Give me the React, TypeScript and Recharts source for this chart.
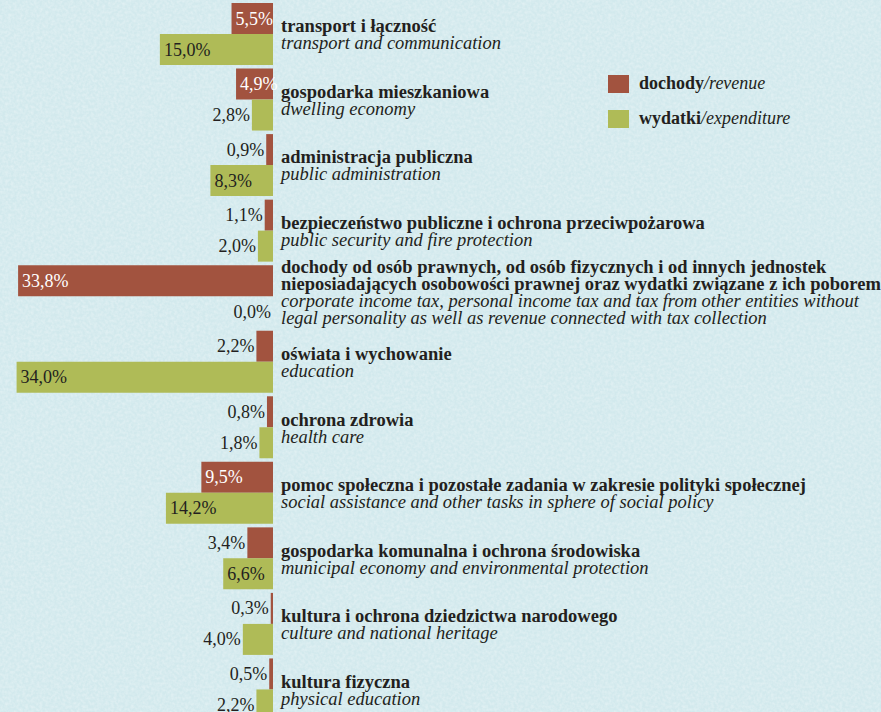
import React from 'react';
import { BarChart, Bar, XAxis, YAxis, Legend, LabelList } from 'recharts';

const categoriesPl: string[][] = [
  ['transport i łączność'],
  ['gospodarka mieszkaniowa'],
  ['administracja publiczna'],
  ['bezpieczeństwo publiczne i ochrona przeciwpożarowa'],
  ['dochody od osób prawnych, od osób fizycznych i od innych jednostek', 'nieposiadających osobowości prawnej oraz wydatki związane z ich poborem'],
  ['oświata i wychowanie'],
  ['ochrona zdrowia'],
  ['pomoc społeczna i pozostałe zadania w zakresie polityki społecznej'],
  ['gospodarka komunalna i ochrona środowiska'],
  ['kultura i ochrona dziedzictwa narodowego'],
  ['kultura fizyczna'],
];

const categoriesEn: string[][] = [
  ['transport and communication'],
  ['dwelling economy'],
  ['public administration'],
  ['public security and fire protection'],
  ['corporate income tax, personal income tax and tax from other entities without', 'legal personality as well as revenue connected with tax collection'],
  ['education'],
  ['health care'],
  ['social assistance and other tasks in sphere of social policy'],
  ['municipal economy and environmental protection'],
  ['culture and national heritage'],
  ['physical education'],
];

const revenue: number[] = [5.5, 4.9, 0.9, 1.1, 33.8, 2.2, 0.8, 9.5, 3.4, 0.3, 0.5];
const expenditure: number[] = [15.0, 2.8, 8.3, 2.0, 0.0, 34.0, 1.8, 14.2, 6.6, 4.0, 2.2];

const seriesPl = ['dochody', 'wydatki'];
const seriesEn = ['revenue', 'expenditure'];

const RED = '#a2533f';
const GREEN = '#afbb57';
const TEXT = '#231f20';
const FONT = '"Liberation Serif", "Times New Roman", serif';

const data = categoriesPl.map((_, i) => ({
  key: String(i),
  rev: revenue[i],
  exp: expenditure[i],
}));

const fmt = (v: number) => v.toFixed(1).replace('.', ',') + '%';

const makeLabel = (insideColor: string) => (props: any) => {
  const { x, y, width, height, value } = props;
  const left = Math.min(Number(x), Number(x) + Number(width));
  const cy = Number(y) + Number(height) / 2;
  const inside = Number(value) >= 4.5;
  return (
    <text
      x={inside ? left + 4 : left - 2}
      y={cy}
      dy={6}
      textAnchor={inside ? 'start' : 'end'}
      fill={inside ? insideColor : TEXT}
      fontFamily={FONT}
      fontSize={18}
    >
      {fmt(Number(value))}
    </text>
  );
};

const LINE = 17;

const CategoryTick = (props: any) => {
  const { x, y, payload } = props;
  const idx = Number(payload.value);
  const pl = categoriesPl[idx];
  const en = categoriesEn[idx];
  const n = pl.length + en.length;
  const first = Number(y) - 1.5 - (n - 2) * 10.5;
  const lines: { t: string; bold: boolean }[] = [
    ...pl.map((t) => ({ t, bold: true })),
    ...en.map((t) => ({ t, bold: false })),
  ];
  return (
    <g>
      {lines.map((l, i) => (
        <text
          key={i}
          x={x}
          y={first + i * LINE}
          textAnchor="start"
          fill={TEXT}
          fontFamily={FONT}
          fontSize={18.5}
          fontWeight={l.bold ? 'bold' : 'normal'}
          fontStyle={l.bold ? 'normal' : 'italic'}
        >
          {l.t}
        </text>
      ))}
    </g>
  );
};

const LegendContent = (props: any) => {
  const payload = props.payload || [];
  return (
    <svg width={240} height={60} style={{ overflow: 'visible' }}>
      {payload.map((p: any, i: number) => (
        <g key={i}>
          <rect x={0} y={i * 35} width={21} height={18} fill={p.color} />
          <text x={31} y={i * 35 + 14} fontFamily={FONT} fontSize={18} fill={TEXT}>
            <tspan fontWeight="bold">{seriesPl[i]}</tspan>
            <tspan fontStyle="italic">/{seriesEn[i]}</tspan>
          </text>
        </g>
      ))}
    </svg>
  );
};

const noise =
  "url(\"data:image/svg+xml;utf8," +
  encodeURIComponent(
    "<svg xmlns='http://www.w3.org/2000/svg' width='200' height='200'><filter id='n'><feTurbulence type='fractalNoise' baseFrequency='0.35' numOctaves='2' seed='3'/><feColorMatrix type='matrix' values='0 0 0 0 1  0 0 0 0 1  0 0 0 0 1  0 0 0 -1.6 1.1'/></filter><rect width='200' height='200' filter='url(%23n)' opacity='0.35'/></svg>"
  ).replace(/%2523/g, '%23') +
  "\")";

export default function App() {
  return (
    <div
      style={{
        position: 'absolute',
        left: 0,
        top: 0,
        width: 881,
        height: 712,
        overflow: 'hidden',
        backgroundColor: '#d2e9ed',
        backgroundImage: noise,
      }}
    >
      <BarChart
        width={881}
        height={722}
        data={data}
        layout="vertical"
        margin={{ top: 1, right: 0, bottom: 0, left: 0 }}
        barCategoryGap={2}
        barGap={0}
      >
        <XAxis type="number" domain={[0, 36.2]} reversed hide allowDataOverflow />
        <YAxis
          type="category"
          dataKey="key"
          orientation="right"
          width={608}
          axisLine={false}
          tickLine={false}
          tickSize={0}
          tickMargin={8}
          interval={0}
          tick={<CategoryTick />}
        />
        <Bar dataKey="rev" name="dochody/revenue" fill={RED} isAnimationActive={false}>
          <LabelList dataKey="rev" content={makeLabel('#ffffff')} />
        </Bar>
        <Bar dataKey="exp" name="wydatki/expenditure" fill={GREEN} isAnimationActive={false} minPointSize={1}>
          <LabelList dataKey="exp" content={makeLabel(TEXT)} />
        </Bar>
        <Legend
          layout="vertical"
          align="center"
          verticalAlign="middle"
          content={<LegendContent />}
          wrapperStyle={{ position: 'absolute', left: 608, top: 75, width: 240, height: 60 }}
        />
      </BarChart>
    </div>
  );
}
